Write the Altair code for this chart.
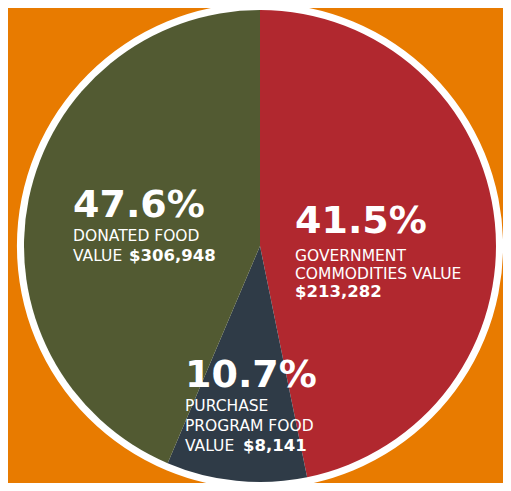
import math
import altair as alt
import pandas as pd

# Slice data (share of the circle as drawn in the picture, clockwise from 12 o'clock)
categories = ["Government Commodities", "Purchase Program Food", "Donated Food"]
slice_share = [46.8, 9.6, 43.6]
slice_colors = ["#B1282F", "#2F3B47", "#525A32"]

# Label texts
pct_labels = ["41.5%", "10.7%", "47.6%"]
desc_lines = [
    ["GOVERNMENT", "COMMODITIES VALUE"],
    ["PURCHASE", "PROGRAM FOOD"],
    ["DONATED FOOD"],
]
value_prefix = ["", "VALUE", "VALUE"]
value_amounts = ["$213,282", "$8,141", "$306,948"]

W, H = 495, 475
CX, CY = 252, 238
FONT = "DejaVu Sans"
BG = "#E87B00"

pie_df = pd.DataFrame({"cat": categories, "share": slice_share, "idx": [0, 1, 2]})

disk = alt.Chart(pd.DataFrame({"k": [1]})).mark_arc(
    color="white", outerRadius=243, theta=0, theta2=2 * math.pi
).encode(x=alt.value(CX), y=alt.value(CY))

pie = alt.Chart(pie_df).mark_arc(outerRadius=236).encode(
    theta=alt.Theta("share:Q", stack=True),
    order=alt.Order("idx:Q"),
    color=alt.Color("cat:N", scale=alt.Scale(domain=categories, range=slice_colors), legend=None),
    x=alt.value(CX),
    y=alt.value(CY),
)

# layout of label blocks: (left x, baseline of big pct, baseline of first desc line, line step)
block_pos = [(287, 225, 253, 18), (177, 379, 403, 20), (65, 209, 233, 20)]
value_dx = [0, 58, 56]


def txt(s, x, y, size, bold):
    return alt.Chart(pd.DataFrame({"t": [s]})).mark_text(
        align="left", baseline="alphabetic", font=FONT, fontSize=size,
        fontWeight="bold" if bold else "normal", color="white"
    ).encode(text="t:N", x=alt.value(x), y=alt.value(y))


layers = [disk, pie]
for i in range(3):
    x0, ypct, ydesc, step = block_pos[i]
    layers.append(txt(pct_labels[i], x0, ypct, 38, True))
    y = ydesc
    for line in desc_lines[i]:
        layers.append(txt(line, x0, y, 15.5, False))
        y += step
    if value_prefix[i]:
        layers.append(txt(value_prefix[i], x0, y, 15.5, False))
    layers.append(txt(value_amounts[i], x0 + value_dx[i], y, 16.5, True))

chart = alt.layer(*layers).properties(
    width=W, height=H, background=BG, padding=0,
    autosize=alt.AutoSizeParams(type="none"),
).configure_view(stroke=None)

chart.save("out.html", embed_options={"renderer": "svg", "actions": False})
